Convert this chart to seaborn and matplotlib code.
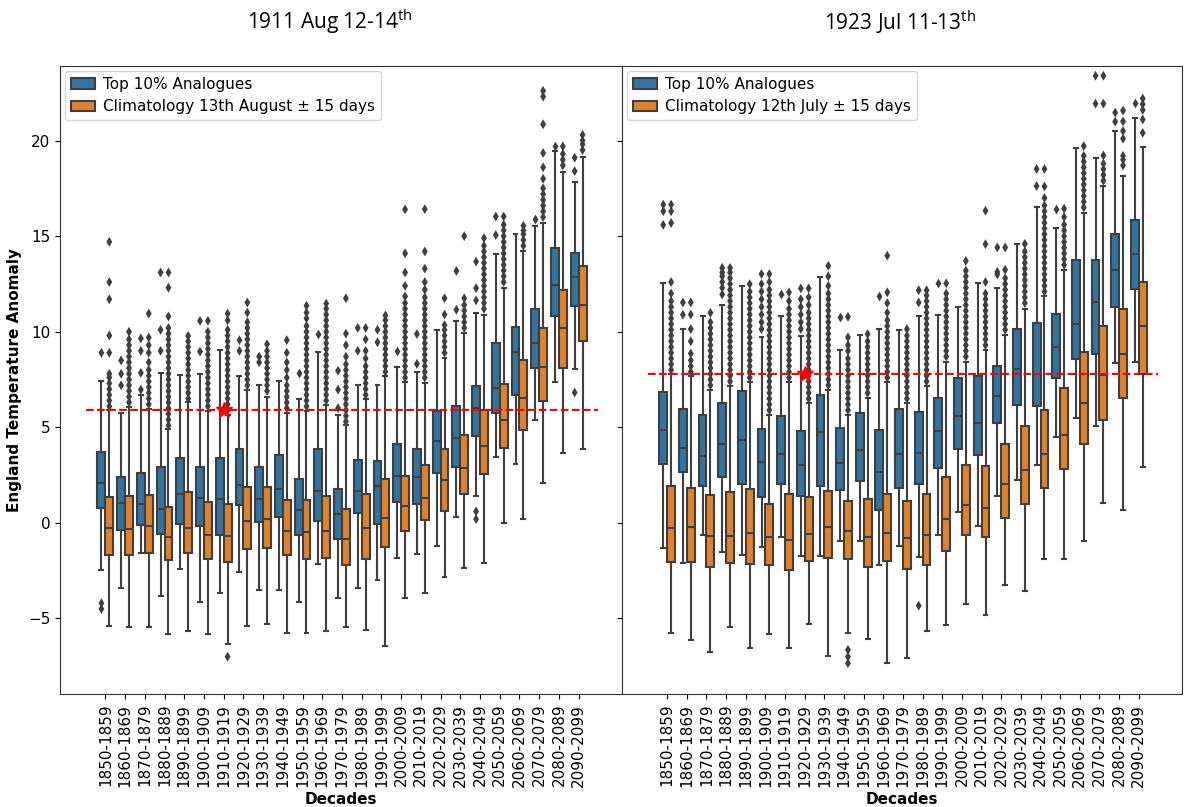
import numpy as np
import pandas as pd
import matplotlib
matplotlib.use("Agg")
import matplotlib.pyplot as plt
import seaborn as sns

# ---------------- data ----------------
decades = [f"{y}-{y+9}" for y in range(1850, 2100, 10)]
series = ["Top 10% Analogues", "Climatology"]

# Left panel (1911 Aug 12-14th)
L_blue_lo  = [-2.45,-3.41,-1.57,-3.84,-2.41,-4.16,-3.67,-2.56,-3.50,-3.50,-4.14,-2.13,-3.95,-3.41,-2.97,-1.85,-1.64,-1.21,0.29,1.40,3.44,3.07,5.39,7.36,8.06]
L_blue_q1  = [0.78,-0.35,-0.10,-0.57,-0.07,-0.14,-0.61,0.93,0.03,0.33,-0.61,0.08,-0.82,0.50,-0.07,1.08,0.98,2.60,2.90,4.57,5.75,6.67,8.11,10.83,11.32]
L_blue_med = [2.07,1.04,0.98,0.72,1.51,1.30,1.25,1.96,1.25,1.75,0.68,1.68,0.44,1.68,1.94,2.43,2.39,4.29,4.42,6.03,7.08,8.96,9.39,12.45,12.86]
L_blue_q3  = [3.72,2.39,2.60,2.95,3.39,2.90,3.39,3.89,2.92,3.54,2.28,3.89,1.75,3.29,3.24,4.14,3.87,5.86,6.14,7.14,9.39,10.25,11.21,14.36,14.10]
L_blue_hi  = [7.42,5.73,6.71,7.83,7.74,7.78,9.07,7.68,7.21,7.42,6.46,8.96,5.64,7.21,7.21,8.17,7.89,10.08,10.57,11.00,14.06,15.11,15.54,19.46,17.85]
L_blue_fl  = [[-4.5,-4.2,8.9],[7.2,7.8,8.5],[6.97,7.85,9.0,9.65],[9.0,10.1,13.1],[],[8.96,10.57],[],[9.0,9.56],
              [8.4,8.7],[],[7.85],[9.88],[6.0,6.97,7.96],[9.0,10.2],[9.45,10.1],[9.0],[8.32,9.88],[],[11.15,13.18],
              [0.2,0.6,11.64,12.28,13.67],[15.06,16.03],[],[15.92],[19.7],[6.82,18.4,19.1]]

L_or_lo  = [-5.38,-5.45,-5.45,-5.81,-5.64,-5.81,-6.35,-5.38,-5.28,-5.77,-5.77,-5.66,-5.45,-5.60,-6.46,-3.95,-3.67,-2.82,-2.34,-2.11,0.01,0.18,2.11,3.67,3.87]
L_or_q1  = [-1.68,-1.68,-1.57,-1.92,-1.57,-1.89,-2.02,-1.38,-1.32,-1.70,-1.89,-1.85,-2.22,-1.89,-1.25,-0.42,0.14,0.61,1.51,2.54,3.93,4.85,6.39,8.11,9.50]
L_or_med = [-0.29,-0.31,-0.18,-0.72,-0.29,-0.61,-0.67,0.08,0.18,-0.42,-0.50,-0.40,-0.82,-0.29,0.25,0.89,1.32,2.22,2.86,4.00,5.36,6.54,8.15,10.20,11.42]
L_or_q3  = [1.36,1.40,1.47,0.83,1.62,1.10,0.99,1.90,1.90,1.21,1.19,1.40,0.72,1.53,2.28,2.47,3.03,3.87,4.62,5.92,7.25,8.53,10.18,12.17,13.42]
L_or_hi  = [5.90,6.07,5.96,4.89,6.33,5.86,5.64,6.93,6.59,5.75,5.86,6.18,5.11,6.50,7.68,7.36,7.30,8.64,9.93,10.89,12.28,14.20,15.70,18.38,19.13]
L_or_fl  = [
    [6.1,6.4,6.7,7.0,7.3,7.6,7.8,8.9,9.8,11.7,12.6,14.7],
    [6.3,6.6,6.9,7.2,7.5,7.8,8.1,8.4,8.7,9.0,9.3,9.6,10.0],
    [6.2,6.5,6.8,7.1,7.4,7.7,8.0,8.4,8.9,9.3,9.7,10.95],
    [5.1,5.4,5.7,6.0,6.3,6.6,6.9,7.2,7.5,7.8,8.1,8.4,8.7,9.0,9.3,9.6,9.9,10.2,10.8,12.3,13.1],
    [6.5,6.8,7.1,7.4,7.7,8.0,8.3,8.6,8.9,9.2,9.5,9.78],
    [6.1,6.4,6.7,7.0,7.3,7.6,7.9,8.2,8.5,8.8,9.1,9.4,9.7,10.0,10.57],
    [-7.0,5.9,6.2,6.5,6.8,7.1,7.4,7.7,8.0,8.3,8.6,8.9,9.2,9.5,9.8,10.1,10.6,10.95],
    [7.2,7.5,7.8,8.1,8.4,8.7,9.0,9.3,9.6,9.9,10.2,10.5,11.0,11.53],
    [6.9,7.2,7.5,7.8,8.1,8.4,8.7,9.0,9.35],
    [6.0,6.3,6.6,6.9,7.2,7.6,8.0,8.4,8.9,9.56],
    [6.1,6.4,6.7,7.0,7.3,7.6,7.9,8.2,8.5,8.8,9.1,9.4,9.7,10.0,10.3,10.7,11.0,11.36],
    [6.4,6.7,7.0,7.3,7.6,7.9,8.2,8.5,8.8,9.1,9.4,9.7,10.0,10.3,10.6,10.9,11.2,11.47],
    [5.3,5.6,5.9,6.2,6.5,6.8,7.1,7.4,7.7,8.0,8.3,8.7,9.3,9.9,11.75],
    [6.7,7.0,7.3,7.6,7.9,8.2,8.6,9.0,9.6,10.2],
    [7.9,8.2,8.5,8.8,9.1,9.4,9.7,10.0,10.3,10.6,10.85],
    [7.6,7.9,8.2,8.5,8.8,9.1,9.4,9.7,10.0,10.3,10.6,10.9,11.2,11.5,11.85,12.4,13.1,14.1,16.4],
    [7.6,7.9,8.2,8.5,8.8,9.1,9.4,9.7,10.0,10.3,10.6,10.9,11.2,11.5,11.8,12.2,12.6,13.3,14.2,16.41],
    [8.9,9.2,9.5,9.8,10.1,10.35,10.9,11.75],
    [10.2,10.5,10.8,11.1,11.4,11.75,15.0],
    [11.2,11.5,11.8,12.1,12.4,12.7,13.0,13.3,13.6,13.9,14.2,14.5,14.9],
    [12.6,12.9,13.2,13.5,13.8,14.1,14.4,14.7,15.0,15.3,15.6,16.03],
    [14.5,14.8,15.1,15.3,15.54],
    [16.0,16.3,16.6,16.9,17.2,17.5,18.0,18.6,19.35,20.85,22.3,22.6],
    [18.7,19.0,19.3,19.7],
    [19.5,19.8,20.0,20.3]]

# Right panel (1923 Jul 11-13th)
R_blue_lo  = [-1.30,-2.08,-0.65,-1.51,-1.66,-1.25,-0.72,-1.72,-1.72,-0.97,-0.97,-2.19,-1.19,-1.79,-0.65,0.59,-0.16,1.42,2.27,3.02,4.48,5.50,5.05,8.34,8.43]
R_blue_q1  = [3.08,2.66,1.95,2.40,2.02,1.38,2.02,1.42,1.91,1.70,2.17,0.69,1.85,2.02,2.87,3.88,3.56,5.22,6.18,6.12,7.57,8.58,8.86,11.27,12.23]
R_blue_med = [4.84,3.90,3.51,4.15,4.33,3.19,3.62,3.04,4.75,3.15,3.79,2.66,3.60,3.68,4.80,5.59,5.22,6.65,8.04,7.79,9.18,10.39,11.53,13.24,14.05]
R_blue_q3  = [6.87,5.97,5.65,6.29,6.89,4.90,5.61,4.80,6.68,4.95,5.76,4.88,5.97,5.82,6.51,7.57,7.66,8.21,10.14,10.46,10.95,13.73,13.77,15.10,15.86]
R_blue_hi  = [12.53,10.14,10.84,11.42,12.38,9.75,10.84,9.77,12.85,9.07,9.82,10.14,10.09,10.82,10.89,11.27,12.53,12.27,14.58,16.55,15.44,19.60,19.11,20.50,21.18]
R_blue_fl  = [[15.59,16.3,16.65],[10.89,11.53],[],[11.95,12.3,12.6,12.9,13.1,13.34],[],
              [10.14,10.5,10.9,11.3,11.7,12.1,12.5,13.02],[11.95],[10.14,10.5,10.9,11.3,11.7,12.27],[],[10.78],[],
              [11.89],[],[-4.33,11.53,12.17],[12.53],[],[],[13.0,13.13,14.41],[],[17.62,18.51],[16.44],[],
              [21.93,23.39],[20.99,21.46],[21.99]]

R_or_lo  = [-5.78,-6.14,-6.74,-5.46,-6.53,-5.82,-6.53,-5.29,-6.96,-5.78,-6.06,-7.34,-7.08,-5.63,-5.35,-4.22,-4.82,-3.26,-3.58,-1.89,-1.89,-0.97,1.06,0.69,2.91]
R_or_q1  = [-2.04,-2.04,-2.30,-2.11,-2.15,-2.21,-2.47,-1.98,-1.83,-1.89,-2.32,-2.00,-2.40,-2.21,-1.47,-0.65,-0.72,0.24,1.01,1.85,2.83,4.11,5.39,6.55,7.79]
R_or_med = [-0.29,-0.23,-0.70,-0.70,-0.55,-0.76,-0.87,-0.59,-0.23,-0.44,-0.72,-0.55,-0.80,-0.61,0.20,0.95,0.80,2.02,2.77,3.62,4.58,6.29,7.74,8.86,10.31]
R_or_q3  = [1.91,1.85,1.44,1.63,1.76,0.99,1.53,1.33,1.65,1.16,1.23,1.53,1.12,1.53,2.38,3.04,2.98,4.11,5.07,5.93,7.04,8.96,10.31,11.21,12.59]
R_or_hi  = [7.79,7.68,6.93,7.15,7.36,5.65,7.36,6.29,6.93,5.65,6.55,7.36,6.29,7.15,8.43,8.43,9.07,9.82,11.21,11.85,13.24,16.23,17.62,18.15,19.65]
R_or_fl  = [
    [8.0,8.3,8.6,8.9,9.2,9.5,9.8,10.1,10.4,10.7,11.0,11.3,11.6,12.0,12.6,15.69,16.3,16.65],
    [7.9,8.2,8.5,8.86,9.5,10.14,10.9,11.53],
    [7.2,7.5,7.8,8.1,8.4,8.7,9.0,9.3,9.6,9.9,10.2,10.5,10.99],
    [7.4,7.7,8.0,8.3,8.6,8.9,9.2,9.5,9.8,10.1,10.4,10.7,11.0,11.3,11.6,11.9,12.2,12.5,12.8,13.1,13.34],
    [7.6,7.9,8.2,8.5,8.8,9.1,9.4,9.7,10.0,10.3,10.6,10.9,11.2,11.5,11.8,12.1,12.49],
    [5.9,6.2,6.5,6.8,7.1,7.4,7.7,8.0,8.3,8.6,8.9,9.2,9.5,9.8,10.1,10.4,10.7,11.0,11.3,11.6,11.9,12.2,12.6,13.02],
    [7.6,7.9,8.2,8.5,8.8,9.1,9.4,9.7,10.0,10.3,10.6,10.9,11.2,11.6,12.06],
    [6.5,6.8,7.1,7.4,7.7,8.0,8.3,8.6,8.9,9.2,9.5,9.8,10.1,10.4,10.7,11.0,11.4,11.8,12.27],
    [7.2,7.5,7.8,8.1,8.4,8.7,9.0,9.3,9.6,9.9,10.2,10.5,10.8,11.1,11.4,11.7,12.0,12.4,12.9,13.45],
    [-7.34,-7.0,-6.64,5.9,6.2,6.5,6.8,7.1,7.4,7.7,8.0,8.3,8.6,9.0,9.3,9.71,10.78],
    [6.8,7.1,7.4,7.7,8.0,8.3,8.6,8.9,9.2,9.5,9.88],
    [7.6,7.9,8.2,8.5,8.8,9.1,9.4,9.7,10.0,10.3,10.6,11.0,11.5,12.06,13.98],
    [6.5,6.8,7.1,7.4,7.7,8.0,8.3,8.6,8.9,9.2,9.5,9.8,10.14],
    [7.4,7.7,8.0,8.3,8.6,8.9,9.2,9.5,9.8,10.1,10.4,10.7,11.0,11.3,11.6,11.9,12.17],
    [8.7,9.0,9.3,9.6,9.9,10.2,10.5,10.8,11.1,11.4,11.7,12.0,12.53],
    [8.7,9.0,9.3,9.6,9.9,10.2,10.5,10.8,11.1,11.4,11.7,12.0,12.3,12.6,12.9,13.2,13.71],
    [9.3,9.6,9.9,10.2,10.5,10.8,11.1,11.4,11.7,12.0,12.6,14.58,16.33],
    [10.1,10.4,10.7,11.0,11.3,11.6,11.9,12.2,12.5,12.8,13.24,14.41],
    [11.5,11.8,12.1,12.4,12.7,13.0,13.3,13.6,13.9,14.2,14.6],
    [12.1,12.4,12.7,13.0,13.3,13.6,13.9,14.2,14.5,14.8,15.1,15.4,15.7,16.0,16.3,16.6,17.0,17.6,18.51],
    [13.5,13.8,14.1,14.4,14.7,15.0,15.3,15.6,16.0,16.44],
    [16.5,16.8,17.1,17.4,17.7,18.0,18.3,18.6,18.9,19.2,19.71],
    [17.9,18.2,18.5,18.8,19.22,21.93,23.39],
    [18.7,19.0,19.2,20.1,20.5,21.0,21.57],
    [20.4,21.1,21.6,21.9,22.2]]

titles = ["1911 Aug 12-14$^{\\mathregular{th}}$", "1923 Jul 11-13$^{\\mathregular{th}}$"]
clim_labels = ["Climatology 13th August \u00b1 15 days", "Climatology 12th July \u00b1 15 days"]
event_decade = ["1910-1919", "1920-1929"]
event_value = [5.9, 7.8]

# ---------------- helpers ----------------
def build_frames(stats_by_series, fliers_by_series):
    rows, frows = [], []
    for s, (lo, q1, md, q3, hi) in stats_by_series.items():
        for i, d in enumerate(decades):
            # sample whose quartiles / extremes equal the values
            vals = [lo[i]] + [q1[i]] * 100 + [md[i]] * 100 + [q3[i]] * 100 + [hi[i]]
            rows += [(d, s, v) for v in vals]
            frows += [(d, s, v) for v in fliers_by_series[s][i]]
    df = pd.DataFrame(rows, columns=["Decades", "series", "value"])
    fdf = pd.DataFrame(frows, columns=["Decades", "series", "value"])
    return df, fdf

panels = [
    ({series[0]: (L_blue_lo, L_blue_q1, L_blue_med, L_blue_q3, L_blue_hi),
      series[1]: (L_or_lo, L_or_q1, L_or_med, L_or_q3, L_or_hi)},
     {series[0]: L_blue_fl, series[1]: L_or_fl}),
    ({series[0]: (R_blue_lo, R_blue_q1, R_blue_med, R_blue_q3, R_blue_hi),
      series[1]: (R_or_lo, R_or_q1, R_or_med, R_or_q3, R_or_hi)},
     {series[0]: R_blue_fl, series[1]: R_or_fl}),
]

# ---------------- plot ----------------
plt.rcParams["font.family"] = ["DejaVu Sans"]
plt.rcParams["mathtext.fontset"] = "custom"
plt.rcParams["mathtext.rm"] = "Open Sans"

fig = plt.figure(figsize=(11.84, 8.07), dpi=100)
axes = [fig.add_axes([60/1184, 1-694/807, 562/1184, 628/807]),
        fig.add_axes([622/1184, 1-694/807, 560/1184, 628/807])]
palette = ["#1f77b4", "#ff7f0e"]
gray = "#3f3f3f"

for k, ax in enumerate(axes):
    stats, fl = panels[k]
    df, fdf = build_frames(stats, fl)
    sns.boxplot(data=df, x="Decades", y="value", hue="series", order=decades,
                hue_order=series, palette=palette, saturation=0.75, whis=(0, 100),
                showfliers=False, width=0.8, linewidth=1.5, linecolor=gray, ax=ax)
    sns.stripplot(data=fdf, x="Decades", y="value", hue="series", order=decades,
                  hue_order=series, palette=[gray, gray], dodge=True, jitter=False,
                  marker="d", size=5, linewidth=0, legend=False, ax=ax)
    ax.plot([-1, len(decades)], [event_value[k]] * 2, color="red", ls="--", lw=1.5, zorder=5)
    ax.plot(decades.index(event_decade[k]), event_value[k], marker="*", color="red",
            markersize=12, ls="none", zorder=6)
    ax.set_xlim(-2.3, 26.2)
    ax.set_ylim(-8.95, 23.9)
    ax.set_yticks([-5, 0, 5, 10, 15, 20])
    ax.tick_params(axis="x", labelrotation=90, labelsize=11)
    ax.tick_params(axis="y", labelsize=11)
    ax.set_xlabel("Decades", fontsize=11, fontweight="bold")
    if k == 0:
        ax.set_ylabel("England Temperature Anomaly", fontsize=11, fontweight="bold")
    else:
        ax.set_ylabel("")
        ax.tick_params(axis="y", labelleft=False)
    leg = ax.get_legend()
    handles = leg.legend_handles
    leg.remove()
    ax.legend(handles, [series[0], clim_labels[k]], loc="upper left", fontsize=11,
              borderaxespad=0.3, handlelength=1.6, handletextpad=0.5)
    for sp in ax.spines.values():
        sp.set_color("#333333")

fig.text(330/1184, 1-22/807, titles[0], ha="center", va="center", fontsize=15, family="Open Sans")
fig.text(900/1184, 1-22/807, titles[1], ha="center", va="center", fontsize=15, family="Open Sans")

fig.savefig("out.png", dpi=100)
